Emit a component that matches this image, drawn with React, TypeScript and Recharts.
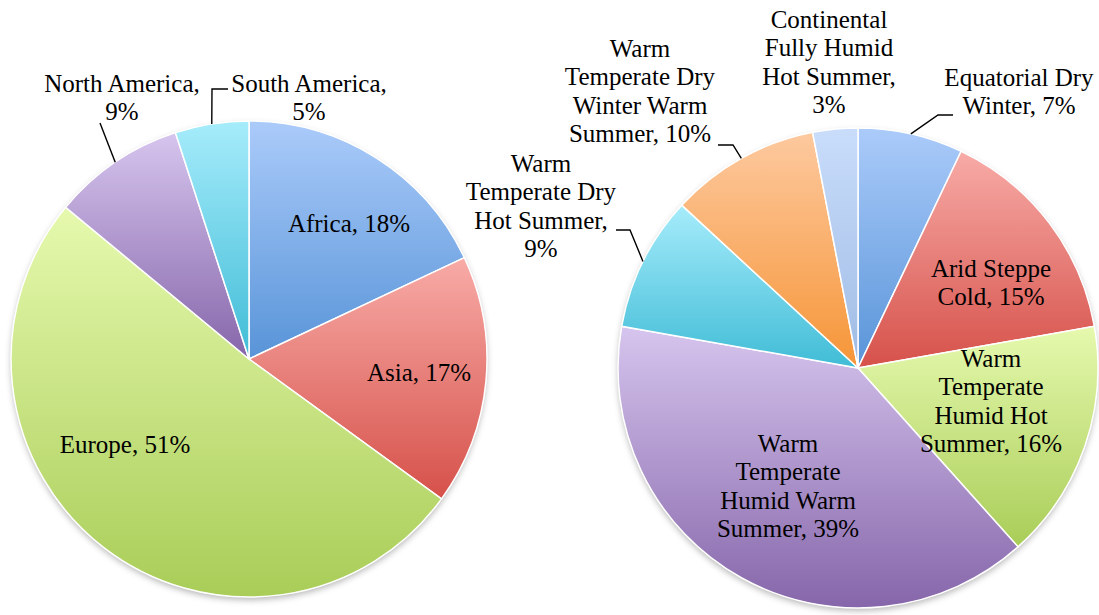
import { Cell, Pie, PieChart } from 'recharts';

// Left pie: share by continent
const continents = ['Africa', 'Asia', 'Europe', 'North America', 'South America'];
const continentShares = [18, 17, 51, 9, 5];

// Right pie: share by climate zone
const climateZones = [
    'Equatorial Dry Winter',
    'Arid Steppe Cold',
    'Warm Temperate Humid Hot Summer',
    'Warm Temperate Humid Warm Summer',
    'Warm Temperate Dry Hot Summer',
    'Warm Temperate Dry Winter Warm Summer',
    'Continental Fully Humid Hot Summer',
];
const climateShares = [7, 15, 16, 39, 9, 10, 3];

const continentData = continents.map((name, i) => ({name, value: continentShares[i]}));
const climateData = climateZones.map((name, i) => ({name, value: climateShares[i]}));

// single full disc, only used to cast the soft shadow under each pie
const discData = [{name: 'disc', value: 1}];

type Shade = { top: string; bottom: string };

const BLUE: Shade = {top: '#abcbfa', bottom: '#5894d8'};
const RED: Shade = {top: '#f8aba7', bottom: '#d6514a'};
const GREEN: Shade = {top: '#e6f9ae', bottom: '#a9cd58'};
const PURPLE: Shade = {top: '#d6c5ee', bottom: '#8666aa'};
const CYAN: Shade = {top: '#a6ecfb', bottom: '#40bcd6'};
const ORANGE: Shade = {top: '#fdc99f', bottom: '#f69537'};
const PALE_BLUE: Shade = {top: '#c9ddfb', bottom: '#9fbbe4'};

const shades: Record<string, Shade> = {
    'Africa': BLUE,
    'Asia': RED,
    'Europe': GREEN,
    'North America': PURPLE,
    'South America': CYAN,
    'Equatorial Dry Winter': BLUE,
    'Arid Steppe Cold': RED,
    'Warm Temperate Humid Hot Summer': GREEN,
    'Warm Temperate Humid Warm Summer': PURPLE,
    'Warm Temperate Dry Hot Summer': CYAN,
    'Warm Temperate Dry Winter Warm Summer': ORANGE,
    'Continental Fully Humid Hot Summer': PALE_BLUE,
};

// label placement relative to the pie centre: text centre x, first baseline y,
// words per line, optional leader elbow / end points
type LabelLayout = {
    dx: number;
    dy: number;
    words: number[];
    leader?: [number, number][];
};

const labelLayout: Record<string, LabelLayout> = {
    'Africa': {dx: 100, dy: -127, words: [3]},
    'Asia': {dx: 170, dy: 22, words: [2]},
    'Europe': {dx: -124, dy: 94, words: [2]},
    'North America': {dx: -127, dy: -267, words: [2, 1], leader: [[-149, -236]]},
    'South America': {dx: 60, dy: -267, words: [2, 1], leader: [[-37, -270], [-21, -270]]},
    'Equatorial Dry Winter': {dx: 161, dy: -282, words: [2, 2], leader: [[80, -253], [95, -253]]},
    'Arid Steppe Cold': {dx: 133, dy: -91, words: [2, 2]},
    'Warm Temperate Humid Hot Summer': {dx: 133, dy: -1, words: [1, 1, 2, 2]},
    'Warm Temperate Humid Warm Summer': {dx: -70, dy: 84, words: [1, 1, 2, 2]},
    'Warm Temperate Dry Hot Summer': {dx: -317, dy: -196, words: [1, 2, 2, 1], leader: [[-228, -138], [-242, -138]]},
    'Warm Temperate Dry Winter Warm Summer': {dx: -218, dy: -311, words: [1, 2, 2, 2], leader: [[-125, -223], [-140, -223]]},
    'Continental Fully Humid Hot Summer': {dx: -29, dy: -340, words: [1, 2, 2, 1]},
};

const FONT = '"Liberation Serif", "Times New Roman", serif';
const FONT_SIZE = 25;
const LINE_HEIGHT = 28.4;
const RADIAN = Math.PI / 180;

const gradId = (name: string) => `shade-${name.replace(/\s+/g, '-')}`;

type LabelProps = {
    cx: number;
    cy: number;
    midAngle: number;
    outerRadius: number;
    name: string;
    value: number;
};

const renderLabel = (props: LabelProps) => {
    const {cx, cy, midAngle, outerRadius, name, value} = props;
    const layout = labelLayout[name];
    if (!layout) {
        return null;
    }
    const tokens = `${name}, ${value}%`.split(' ');
    const lines: string[] = [];
    let pos = 0;
    layout.words.forEach(n => {
        lines.push(tokens.slice(pos, pos + n).join(' '));
        pos += n;
    });

    const tx = cx + layout.dx;
    const ty = cy + layout.dy;

    let leaderPath: string | null = null;
    if (layout.leader) {
        const ex = cx + outerRadius * Math.cos(-midAngle * RADIAN);
        const ey = cy + outerRadius * Math.sin(-midAngle * RADIAN);
        leaderPath = `M${ex},${ey}` + layout.leader.map(([x, y]) => ` L${cx + x},${cy + y}`).join('');
    }

    return (
        <g key={`label-${name}`}>
            {leaderPath && (
                <path
                    d={leaderPath}
                    fill={'none'}
                    stroke={'#000'}
                    strokeWidth={1.4}
                />
            )}
            <text
                x={tx}
                y={ty}
                textAnchor={'middle'}
                fontFamily={FONT}
                fontSize={FONT_SIZE}
                fill={'#000'}
            >
                {lines.map((line, i) => (
                    <tspan
                        key={i}
                        x={tx}
                        dy={i === 0 ? 0 : LINE_HEIGHT}
                    >{line}</tspan>
                ))}
            </text>
        </g>
    );
};

const LEFT = {cx: 249, cy: 359, r: 238};
const RIGHT = {cx: 858, cy: 368, r: 240};

export default function App() {
    return (
        <div style={{width: 1099, height: 615, background: '#fff'}}>
            <style>{'body { margin: 0; }'}</style>
            <PieChart
                width={1099}
                height={615}
                margin={{top: 0, right: 0, bottom: 0, left: 0}}
            >
                <defs>
                    <filter
                        id={'pieShadow'}
                        x={'-10%'}
                        y={'-10%'}
                        width={'120%'}
                        height={'120%'}
                    >
                        <feDropShadow
                            dx={0}
                            dy={3}
                            stdDeviation={3}
                            floodColor={'#000'}
                            floodOpacity={0.28}
                        />
                    </filter>
                    {Object.entries(shades).map(([name, shade]) => (
                        <linearGradient
                            key={name}
                            id={gradId(name)}
                            x1={'0'}
                            y1={'0'}
                            x2={'0'}
                            y2={'1'}
                        >
                            <stop
                                offset={'0%'}
                                stopColor={shade.top}
                            />
                            <stop
                                offset={'100%'}
                                stopColor={shade.bottom}
                            />
                        </linearGradient>
                    ))}
                </defs>

                {[LEFT, RIGHT].map((p, i) => (
                    <Pie
                        key={`disc-${i}`}
                        data={discData}
                        dataKey={'value'}
                        cx={p.cx}
                        cy={p.cy}
                        outerRadius={p.r}
                        startAngle={90}
                        endAngle={-270}
                        stroke={'none'}
                        isAnimationActive={false}
                    >
                        <Cell
                            fill={'#fff'}
                            filter={'url(#pieShadow)'}
                        />
                    </Pie>
                ))}

                <Pie
                    data={continentData}
                    dataKey={'value'}
                    nameKey={'name'}
                    cx={LEFT.cx}
                    cy={LEFT.cy}
                    outerRadius={LEFT.r}
                    startAngle={90}
                    endAngle={-270}
                    labelLine={false}
                    label={renderLabel}
                    isAnimationActive={false}
                >
                    {continentData.map(d => (
                        <Cell
                            key={d.name}
                            fill={`url(#${gradId(d.name)})`}
                            stroke={'#fff'}
                            strokeWidth={1.5}
                        />
                    ))}
                </Pie>

                <Pie
                    data={climateData}
                    dataKey={'value'}
                    nameKey={'name'}
                    cx={RIGHT.cx}
                    cy={RIGHT.cy}
                    outerRadius={RIGHT.r}
                    startAngle={90}
                    endAngle={-270}
                    labelLine={false}
                    label={renderLabel}
                    isAnimationActive={false}
                >
                    {climateData.map(d => (
                        <Cell
                            key={d.name}
                            fill={`url(#${gradId(d.name)})`}
                            stroke={'#fff'}
                            strokeWidth={1.5}
                        />
                    ))}
                </Pie>
            </PieChart>
        </div>
    );
}
